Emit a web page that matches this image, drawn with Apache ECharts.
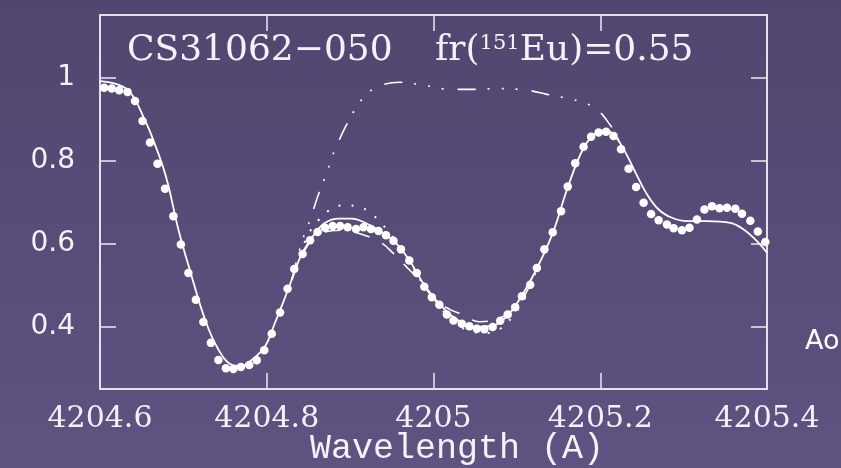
<!DOCTYPE html>
<html><head><meta charset="utf-8">
<script src="https://cdn.jsdelivr.net/npm/echarts@6/dist/echarts.min.js"></script>
<style>html,body{margin:0;padding:0;background:#574b78}#c{width:841px;height:468px}</style>
</head><body><div id="c"></div>
<script>
// Observed spectrum (dots)
const obsWave = [4204.605,4204.614,4204.623,4204.633,4204.642,4204.651,4204.660,4204.669,4204.678,4204.688,
  4204.697,4204.706,4204.715,4204.724,4204.733,4204.742,4204.751,4204.760,4204.769,4204.779,
  4204.788,4204.797,4204.806,4204.816,4204.825,4204.833,4204.843,4204.852,4204.861,4204.870,
  4204.879,4204.888,4204.897,4204.907,4204.916,4204.925,4204.934,4204.943,4204.952,4204.961,
  4204.971,4204.980,4204.989,4204.998,4205.007,4205.016,4205.024,4205.034,4205.043,4205.052,
  4205.061,4205.071,4205.080,4205.089,4205.098,4205.106,4205.116,4205.124,4205.133,4205.143,
  4205.153,4205.161,4205.170,4205.180,4205.189,4205.198,4205.207,4205.216,4205.225,4205.234,
  4205.243,4205.252,4205.261,4205.270,4205.280,4205.288,4205.298,4205.307,4205.316,4205.325,
  4205.334,4205.343,4205.352,4205.362,4205.370,4205.380,4205.389,4205.398];
const obsFlux = [0.975,0.973,0.969,0.965,0.943,0.895,0.843,0.792,0.732,0.666,
  0.598,0.529,0.465,0.411,0.361,0.320,0.300,0.298,0.303,0.308,
  0.319,0.343,0.383,0.434,0.491,0.539,0.575,0.608,0.628,0.638,
  0.642,0.642,0.639,0.635,0.639,0.635,0.630,0.620,0.607,0.586,
  0.559,0.529,0.496,0.471,0.453,0.429,0.415,0.407,0.401,0.395,
  0.394,0.399,0.414,0.429,0.447,0.473,0.501,0.541,0.586,0.627,
  0.678,0.737,0.793,0.833,0.857,0.867,0.869,0.859,0.827,0.780,
  0.736,0.698,0.671,0.656,0.646,0.637,0.632,0.638,0.658,0.682,
  0.690,0.685,0.686,0.684,0.672,0.655,0.629,0.604];

// Best-fit synthetic spectrum (solid)
const fitWave = [4204.600,4204.618,4204.632,4204.642,4204.652,4204.662,4204.679,4204.694,4204.710,4204.726,
  4204.742,4204.758,4204.768,4204.782,4204.798,4204.810,4204.819,4204.830,4204.842,4204.858,
  4204.870,4204.886,4204.902,4204.918,4204.936,4204.953,4204.971,4204.989,4205.007,4205.026,
  4205.050,4205.070,4205.090,4205.106,4205.124,4205.143,4205.161,4205.180,4205.195,4205.207,
  4205.218,4205.230,4205.242,4205.255,4205.270,4205.286,4205.304,4205.328,4205.356,4205.372,
  4205.388,4205.400];
const fitFlux = [0.991,0.985,0.972,0.947,0.905,0.859,0.762,0.634,0.521,0.417,
  0.345,0.308,0.305,0.320,0.353,0.410,0.455,0.513,0.575,0.625,
  0.650,0.660,0.660,0.650,0.630,0.605,0.560,0.500,0.455,0.420,
  0.400,0.402,0.430,0.475,0.540,0.625,0.735,0.830,0.866,0.872,
  0.858,0.820,0.772,0.722,0.682,0.662,0.654,0.654,0.650,0.634,
  0.606,0.578];

// Alternative synthetic spectrum (dotted)
const dotWave = [4204.830,4204.842,4204.852,4204.862,4204.875,4204.891,4204.909,4204.924,4204.937,4204.948,
  4204.965,4204.985,4205.005,4205.025,4205.045,4205.064,4205.080,4205.095,4205.110,4205.124];
const dotFlux = [0.513,0.585,0.630,0.656,0.680,0.692,0.690,0.674,0.650,0.623,
  0.580,0.510,0.455,0.410,0.389,0.385,0.395,0.425,0.470,0.540];

// Alternative synthetic spectrum (dashed)
const dashWave = [4204.830,4204.850,4204.870,4204.890,4204.910,4204.937,4204.951,4204.971,4204.983,4205.002,
  4205.020,4205.034,4205.055,4205.076,4205.095,4205.110,4205.124];
const dashFlux = [0.513,0.598,0.628,0.632,0.625,0.602,0.578,0.537,0.513,0.465,
  0.441,0.430,0.412,0.418,0.440,0.478,0.540];

// Synthetic spectrum without Eu (dash-dot)
const noEuWave = [4204.830,4204.842,4204.848,4204.854,4204.862,4204.872,4204.878,4204.884,4204.895,4204.909,
  4204.920,4204.934,4204.960,4204.988,4205.022,4205.048,4205.076,4205.112,4205.136,4205.162,
  4205.180,4205.196,4205.212,4205.222];
const noEuFlux = [0.513,0.604,0.635,0.670,0.718,0.770,0.807,0.836,0.883,0.933,
  0.959,0.979,0.988,0.981,0.971,0.971,0.973,0.969,0.959,0.949,
  0.939,0.923,0.885,0.850];

const yTickValues = [0.4, 0.6, 0.8, 1];
const starName = 'CS31062\u2212050';
const isoLabel = 'fr({s|151}Eu)=0.55';
const xAxisTitle = 'Wavelength (A)';
const sideText = 'Ao';

const pair = (xs, ys) => xs.map((x, i) => [x, ys[i]]);
const AX = '#e4e0ec';
const TXT = '#f4f2f8';
const xFmt = v => String(+(+v).toFixed(1));

const chart = echarts.init(document.getElementById('c'), null, {renderer: 'canvas'});
const axisCommon = {
  axisLine: {show: true, onZero: false, lineStyle: {color: AX, width: 2}},
  axisTick: {show: true, inside: true, length: 16, lineStyle: {color: AX, width: 1.6}},
  splitLine: {show: false}
};
chart.setOption({
  backgroundColor: {type: 'linear', x: 0, y: 0, x2: 0, y2: 1,
    colorStops: [{offset: 0, color: '#51466f'}, {offset: 1, color: '#5e5381'}]},
  animation: false,
  grid: {left: 100, right: 74, top: 15, bottom: 79},
  title: [
    {text: starName, left: 127, top: 33, padding: 0,
     textStyle: {color: TXT, fontFamily: 'DejaVu Serif', fontSize: 36, fontWeight: 'normal', lineHeight: 36}},
    {text: isoLabel, left: 435, top: 33, padding: 0,
     textStyle: {color: TXT, fontFamily: 'DejaVu Serif', fontSize: 36, fontWeight: 'normal', lineHeight: 36,
       rich: {s: {fontFamily: 'DejaVu Serif', fontSize: 21, lineHeight: 26, verticalAlign: 'top', color: TXT}}}}
  ],
  graphic: [
    {type: 'text', x: 310, y: 449, style: {text: xAxisTitle, fill: TXT, font: '35px "Liberation Mono"', textVerticalAlign: 'middle'}},
    {type: 'text', x: 805, y: 342, style: {text: sideText, fill: '#ffffff', font: '27px "DejaVu Sans"', textVerticalAlign: 'middle'}}
  ],
  xAxis: [
    Object.assign({type: 'value', position: 'bottom', min: 4204.6, max: 4205.4, interval: 0.2,
      axisLabel: {show: true, margin: 15, color: TXT, fontFamily: 'DejaVu Serif', fontSize: 30, formatter: xFmt}}, axisCommon),
    Object.assign({type: 'value', position: 'top', min: 4204.6, max: 4205.4, interval: 0.2,
      axisLabel: {show: false}}, axisCommon)
  ],
  yAxis: [
    Object.assign({type: 'value', position: 'left', min: 0.25, max: 1.15,
      axisLabel: {show: true, margin: 25, color: TXT, fontFamily: 'DejaVu Sans', fontSize: 28,
        customValues: yTickValues, formatter: v => String(+(+v).toFixed(1))}}, axisCommon,
      {axisTick: Object.assign({}, axisCommon.axisTick, {customValues: yTickValues})}),
    Object.assign({type: 'value', position: 'right', min: 0.25, max: 1.15,
      axisLabel: {show: false}}, axisCommon,
      {axisTick: Object.assign({}, axisCommon.axisTick, {customValues: yTickValues})})
  ],
  series: [
    {type: 'line', data: pair(noEuWave, noEuFlux), showSymbol: false, smooth: 0.4,
     lineStyle: {color: '#ffffff', width: 1.6, type: [18, 12, 2, 12, 2, 12, 2, 14]}},
    {type: 'line', data: pair(dashWave, dashFlux), showSymbol: false, smooth: 0.4,
     lineStyle: {color: '#ffffff', width: 1.6, type: [16, 14]}},
    {type: 'line', data: pair(dotWave, dotFlux), showSymbol: false, smooth: 0.4,
     lineStyle: {color: '#ffffff', width: 2, type: [2, 11]}},
    {type: 'line', data: pair(fitWave, fitFlux), showSymbol: false, smooth: 0.4,
     lineStyle: {color: '#ffffff', width: 1.8, type: 'solid'}},
    {type: 'scatter', data: pair(obsWave, obsFlux), symbol: 'circle', symbolSize: 8.5,
     itemStyle: {color: '#ffffff', opacity: 1}, z: 5}
  ]
});
</script>
</body></html>
